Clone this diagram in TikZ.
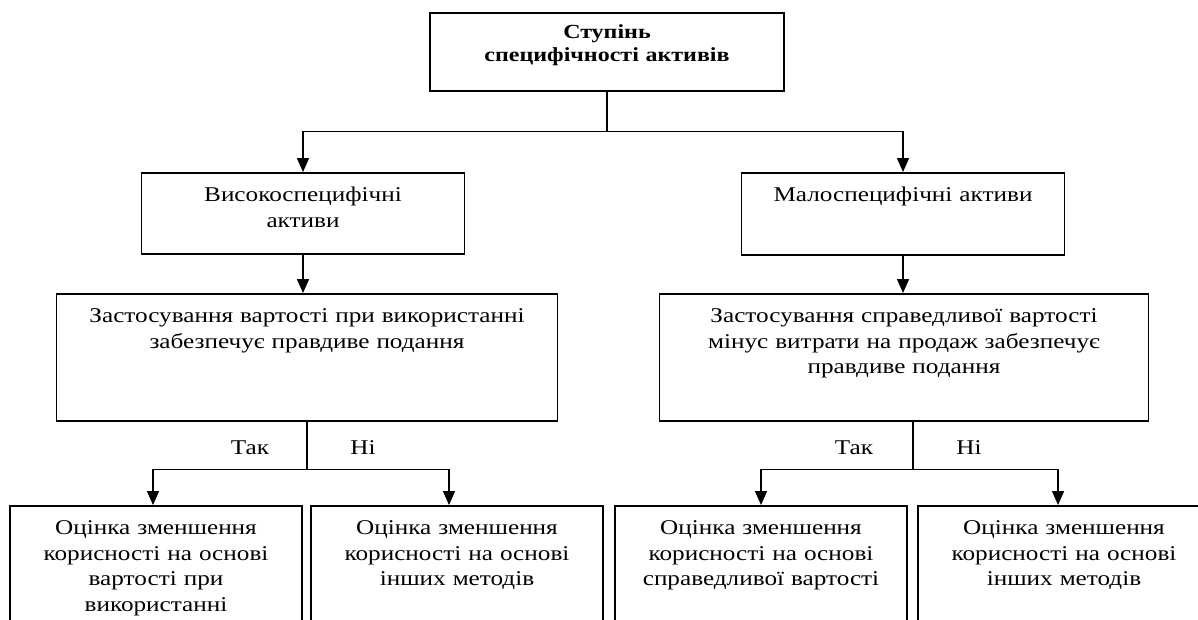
\documentclass[tikz,border=0pt]{standalone}
\usepackage{fontspec}
\setmainfont{Liberation Serif}[FakeStretch=1.2]
\usetikzlibrary{arrows.meta}

\tikzset{
  blk/.style 2 args={draw, line width=1.5pt, anchor=north, align=center,
    inner sep=0pt, text width=#1, text height=29pt, text depth=#2},
  arr/.style={-{Triangle[width=12pt,length=14pt]}, line width=1.5pt},
  ln/.style={line width=1.5pt}
}

\begin{document}
\begin{tikzpicture}[x=1pt,y=-1pt,font=\fontsize{21}{25.5}\selectfont]

\useasboundingbox (0,0) rectangle (1198,619);
\clip (0,0) rectangle (1198,619);

% top block
\node[blk={354pt}{52pt}, text height=26pt, font=\fontsize{20}{23}\selectfont\bfseries] (degree) at (607,12) {Ступінь\\специфічності активів};

% second level
\node[blk={323pt}{52pt}] (high) at (303,172) {Високоспецифічні\\активи};
\node[blk={323pt}{53pt}] (low) at (903,172) {Малоспецифічні активи};

% third level
\node[blk={501pt}{98pt}] (useval) at (307,293) {Застосування вартості при використанні\\забезпечує правдиве подання};
\node[blk={489pt}{98pt}] (fairval) at (904,293) {Застосування справедливої вартості\\мінус витрати на продаж забезпечує\\правдиве подання};

% bottom level
\foreach \name/\x/\txt in
{impuse/156/{Оцінка зменшення\\корисності на основі\\вартості при\\використанні},
impothA/457/{Оцінка зменшення\\корисності на основі\\інших методів},
impfair/761/{Оцінка зменшення\\корисності на основі\\справедливої вартості},
impothB/1064/{Оцінка зменшення\\корисності на основі\\інших методів}}{
    \node[blk={292pt}{101pt}] (\name) at (\x,505) {\txt};
}

% connectors
\draw[ln] (degree.south) -- ++(0,40) coordinate (fork);
\draw[arr] (fork) -| (high.north);
\draw[arr] (fork) -| (low.north);
\draw[arr] (high.south) -- (high.south |- useval.north);
\draw[arr] (low.south) -- (low.south |- fairval.north);

\draw[ln] (useval.south) -- ++(0,48) coordinate (splitL);
\draw[arr] (splitL) -| ([xshift=-3pt]impuse.north);
\draw[arr] (splitL) -| ([xshift=-8pt]impothA.north);
\draw[ln] ([xshift=9pt]fairval.south) -- ++(0,48) coordinate (splitR);
\draw[arr] (splitR) -| (impfair.north);
\draw[arr] (splitR) -| ([xshift=-6pt]impothB.north);

% yes / no labels
\node (yesL) at (250,448) {Так};
\node (noL) at (363,448) {Ні};
\node (yesR) at (854,448) {Так};
\node (noR) at (969,448) {Ні};

\end{tikzpicture}
\end{document}
